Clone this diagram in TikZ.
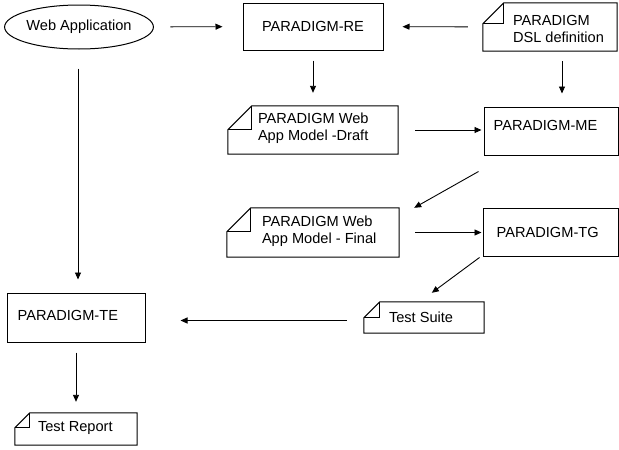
\documentclass[tikz,border=0pt]{standalone}
\usepackage{fontspec}
\setmainfont{Liberation Sans}
\usepackage{tikz}
\usetikzlibrary{calc,arrows.meta,shapes.geometric}
\newcommand{\labfont}{\fontsize{14.6}{17}\selectfont}
\tikzset{
  line/.style={draw=black, line width=1pt, line join=miter},
  box/.style={line, rectangle, inner sep=0pt, font=\labfont},
  oval/.style={line, ellipse, inner sep=0pt, font=\labfont},
  doc/.style={rectangle, inner sep=0pt},
  txt/.style={font=\labfont, align=left, anchor=west, inner sep=0pt},
  arr/.style={draw=black, line width=0.9pt, -{Triangle[length=7pt,width=6pt]}},
}
\begin{document}
\begin{tikzpicture}[x=1pt, y=-1pt]
  \useasboundingbox (0,0) rectangle (619,450);

  % tools and artefacts
  \node[oval, minimum width=145, minimum height=44] (web) at (79,27) {Web Application};
  \node[box, minimum width=140, minimum height=47] (re) at (313,26.5) {PARADIGM-RE};
  \node[doc, minimum width=134, minimum height=48,
        label={[txt, xshift=30, yshift=-2]west:PARADIGM\\DSL definition}] (dsl) at (550,27) {};
  \node[doc, minimum width=170, minimum height=48,
        label={[txt, xshift=30, yshift=2]west:PARADIGM Web\\App Model -Draft}] (draft) at (313,130) {};
  \node[box, minimum width=134, minimum height=48,
        label={[txt, xshift=10, yshift=6]west:PARADIGM-ME}] (me) at (551,131) {};
  \node[doc, minimum width=172, minimum height=49,
        label={[txt, xshift=35, yshift=1]west:PARADIGM Web\\App Model - Final}] (final) at (313,232.5) {};
  \node[box, minimum width=135, minimum height=48,
        label={[txt, xshift=14]west:PARADIGM-TG}] (tg) at (550.5,232) {};
  \node[doc, minimum width=120, minimum height=31,
        label={[txt, xshift=25]west:Test Suite}] (suite) at (424,317.5) {};
  \node[box, minimum width=138, minimum height=49,
        label={[txt, xshift=11, yshift=2.5]west:PARADIGM-TE}] (te) at (76,317.5) {};
  \node[doc, minimum width=122, minimum height=32,
        label={[txt, xshift=23, yshift=1]west:Test Report}] (report) at (76,429) {};

  % folded corner documents
  \foreach \n/\f in {dsl/21, draft/24, final/24, suite/16, report/15}{
    \draw[line] ($(\n.north west)+(0,\f)$) -- ($(\n.north west)+(\f,0)$) -- (\n.north east)
      -- (\n.south east) -- (\n.south west) -- cycle;
    \draw[line] ($(\n.north west)+(0,\f)$) -- ($(\n.north west)+(\f,\f)$) -- ($(\n.north west)+(\f,0)$);
  }

  % flow
  \draw[arr, shorten <=16.5pt, shorten >=20pt] (web) -- (re);
  \draw[arr, shorten <=15pt, shorten >=19pt] (dsl) -- (re);
  \draw[arr, shorten <=10pt, shorten >=13pt] (re) -- (draft);
  \draw[arr, shorten <=10pt, shorten >=13pt] ([xshift=12]dsl.south) -- ([xshift=11]me.north);
  \draw[arr, shorten <=17pt, shorten >=2pt] (draft.east) -- (draft.east -| me.west);
  \draw[arr] ($(me.south west)+(-5,16)$) -- ($(final.north east)+(15,0)$);
  \draw[arr, shorten <=16pt, shorten >=1pt] (final.east) -- (final.east -| tg.west);
  \draw[arr] ($(tg.south west)+(-3,1)$) -- ($(suite.north west)+(68,-9)$);
  \draw[arr, shorten <=17pt, shorten >=35pt] ([yshift=-3]suite.west) -- ([yshift=-3]te.east);
  \draw[arr, shorten <=19pt, shorten >=13pt] ([xshift=-1]web.south) -- ([xshift=2]te.north);
  \draw[arr, shorten <=10pt, shorten >=11pt] (te) -- (report);
\end{tikzpicture}
\end{document}
